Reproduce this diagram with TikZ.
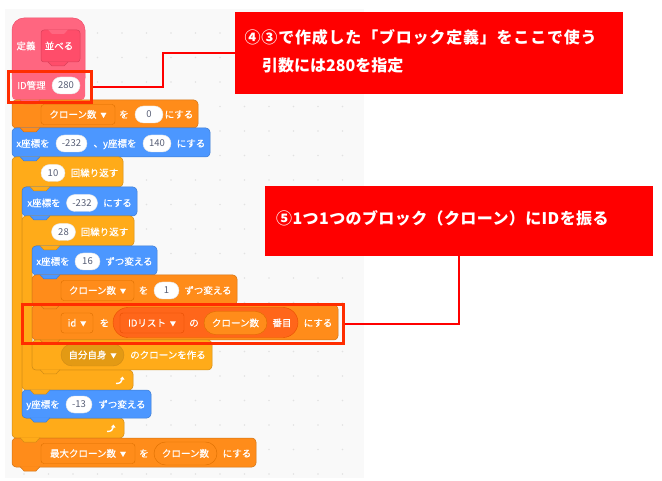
\documentclass[tikz,border=0pt]{standalone}
\usepackage{fontspec}
\newfontfamily\jp{Noto Sans CJK JP}
\newfontfamily\jpm[FakeBold=0.5]{Noto Sans CJK JP}
\usetikzlibrary{arrows.meta}
\definecolor{pinkA}{HTML}{FF6680}
\definecolor{pinkD}{HTML}{F0506C}
\definecolor{pinkIn}{HTML}{FF4D6A}
\definecolor{varO}{HTML}{FF8C1A}
\definecolor{varD}{HTML}{DB6E00}
\definecolor{blueM}{HTML}{4C97FF}
\definecolor{blueD}{HTML}{3373CC}
\definecolor{ctrl}{HTML}{FFAB19}
\definecolor{ctrlD}{HTML}{CF8B17}
\definecolor{ctrlDD}{HTML}{E39A14}
\definecolor{listO}{HTML}{FF661A}
\definecolor{listD}{HTML}{E64D00}
\definecolor{numgrey}{HTML}{575E75}
\definecolor{panel}{HTML}{F9F9F9}
\definecolor{dotc}{HTML}{E2E2E2}
\definecolor{boxred}{HTML}{FF2D00}
\definecolor{callred}{HTML}{FF0000}
\newcommand\ddarrow{\hspace{4pt}\raisebox{0.6pt}{\fontsize{6}{6}\selectfont ▼}}
\newcommand\blockbody[5]{\filldraw[fill=#1, draw=#1!82!black, line width=0.5pt, rounded corners=4pt] (#2,#3) rectangle (#4,#5);}
\newcommand\blocktab[3]{\filldraw[fill=#1, draw=#1!82!black, line width=0.5pt] (#2+8,#3-0.4) -- (#2+12,#3+4) -- (#2+24,#3+4) -- (#2+28,#3-0.4);}
\begin{document}
\begin{tikzpicture}[x=1pt,y=-1pt,
  lbl/.style={text=white, font=\jpm\fontsize{9.5}{10}\selectfont, inner sep=0pt, text height=0.85em, text depth=0.15em},
  num/.style={fill=white, draw=black!10, rounded corners=8.5pt, minimum height=17pt, inner sep=0pt, text=numgrey, font=\jp\fontsize{9.5}{10}\selectfont, text height=0.78em, text depth=0.12em},
  vdd/.style={lbl, fill=varO, draw=varD, rounded corners=3pt, minimum height=20pt},
  ldd/.style={lbl, fill=listO, draw=listD, rounded corners=3pt, minimum height=20pt},
  vrep/.style={lbl, fill=varO, draw=varD, rounded corners=11.5pt, minimum height=23pt},
  lrep/.style={fill=listO, draw=listD, rounded corners=15pt, minimum height=30pt, inner sep=0pt},
  cdd/.style={lbl, fill=ctrlDD, draw=ctrlD, rounded corners=11pt, minimum height=22pt},
  redbox/.style={draw=boxred, line width=3pt, inner sep=0pt},
  callout/.style={fill=callred, inner sep=0pt},
  ctext/.style={text=white, font=\jp\bfseries\fontsize{16}{18}\selectfont, inner sep=0pt, text height=0.88em, text depth=0.12em, anchor=west},
  conn/.style={draw=callred, line width=2.4pt}
]
\useasboundingbox (0,0) rectangle (662,481);
\fill[white] (0,0) rectangle (662,481);
\fill[panel] (5,9) rectangle (364,478);
\foreach \i in {0,...,13} \foreach \j in {0,...,18} \fill[dotc] (24+24.5*\i, 33+24.5*\j) circle (0.8pt);

% define hat
\filldraw[fill=pinkA, draw=pinkD, line width=0.5pt, rounded corners=12pt] (12,18) rectangle (85,90);
\filldraw[fill=pinkIn, draw=pinkIn!85!black, line width=0.5pt, rounded corners=3pt] (41,30) rectangle (80,62);
\fill[pinkA] (48,29.6) -- (52,34) -- (64,34) -- (68,29.6) -- cycle;
\filldraw[fill=pinkIn, draw=pinkIn!85!black, line width=0.5pt] (48,62) -- (52,66) -- (64,66) -- (68,62);
% ID block
\fill[pinkA, rounded corners=4pt] (12,72) rectangle (85,100);
% var A
\blockbody{varO}{12}{100}{198}{128}
% blue B
\blockbody{blueM}{12}{128}{210}{157}
% C1
\filldraw[fill=ctrl, draw=ctrlD, line width=0.5pt, rounded corners=4pt] (12,157) -- (123,157) -- (123,187) -- (22,187) -- (22,418) -- (124,418) -- (124,438) -- (12,438) -- cycle;
% blue C
\blockbody{blueM}{22}{187}{137}{216}
% C2
\filldraw[fill=ctrl, draw=ctrlD, line width=0.5pt, rounded corners=4pt] (22,216) -- (134,216) -- (134,246) -- (32,246) -- (32,370) -- (133,370) -- (133,390) -- (22,390) -- cycle;
% blue D
\blockbody{blueM}{32}{246}{157}{275}
% var E
\blockbody{varO}{32}{275}{237}{305}
% var F
\blockbody{varO}{32}{305}{338}{340}
% ctrl G
\blockbody{ctrl}{32}{340}{212}{370}
% blue H
\blockbody{blueM}{22}{390}{151}{418}
% var I
\blockbody{varO}{12}{438}{256}{467}

% tabs
\blocktab{pinkA}{12}{100}
\blocktab{varO}{12}{128}
\blocktab{blueM}{12}{157}
\blocktab{ctrl}{22}{187}
\blocktab{blueM}{22}{216}
\blocktab{ctrl}{32}{246}
\blocktab{blueM}{32}{275}
\blocktab{varO}{32}{305}
\blocktab{varO}{32}{340}
\blocktab{ctrl}{32}{370}
\blocktab{ctrl}{22}{390}
\blocktab{blueM}{22}{418}
\blocktab{ctrl}{12}{438}
\blocktab{varO}{12}{467}

% loop arrows
\draw[white, line width=1.4pt, -{Triangle[length=3pt,width=4.5pt]}] (116,383.5) .. controls (120,383.5) and (122,382) .. (122.5,376.5);
\draw[white, line width=1.4pt, -{Triangle[length=3pt,width=4.5pt]}] (107,431.5) .. controls (111,431.5) and (113,430) .. (113.5,424.5);

% texts: hat
\node[lbl] (h1) at (26,46) {定義};
\node[lbl] (h2) at (59,46) {並べる};
\node[lbl] (id1) at (31.5,85.5) {ID管理};
\node[num, minimum width=28pt] (id2) at (66,85.5) {280};
% A
\node[vdd, minimum width=74pt] (a1) at (78,114.5) {クローン数\ddarrow};
\node[lbl] (a2) at (124,114.5) {を};
\node[num, minimum width=28pt] (a3) at (149,114.5) {0};
\node[lbl] (a4) at (179,114.5) {にする};
% B
\node[lbl] (b1) at (33,143.5) {x座標を};
\node[num, minimum width=31pt] (b2) at (71.5,143.5) {-232};
\node[lbl] (b3) at (115,143.5) {、y座標を};
\node[num, minimum width=28pt] (b4) at (157,143.5) {140};
\node[lbl] (b5) at (191,143.5) {にする};
% C1 row
\node[num, minimum width=24pt] (c11) at (53,173) {10};
\node[lbl] (c12) at (94.5,173) {回繰り返す};
% blue C
\node[lbl] (bc1) at (44,203) {x座標を};
\node[num, minimum width=31pt] (bc2) at (82,203) {-232};
\node[lbl] (bc3) at (117.5,203) {にする};
% C2 row
\node[num, minimum width=24pt] (c21) at (63.5,232) {28};
\node[lbl] (c22) at (104.5,232) {回繰り返す};
% blue D
\node[lbl] (d1) at (53,261.5) {x座標を};
\node[num, minimum width=25pt] (d2) at (87.5,261.5) {16};
\node[lbl] (d3) at (129,261.5) {ずつ変える};
% E
\node[vdd, minimum width=73pt] (e1) at (97.5,290.5) {クローン数\ddarrow};
\node[lbl] (e2) at (143.5,290.5) {を};
\node[num, minimum width=25pt] (e3) at (166.5,290.5) {1};
\node[lbl] (e4) at (208,290.5) {ずつ変える};
% F
\node[vdd, minimum width=32pt] (f1) at (77,323) {id\ddarrow};
\node[lbl] (f2) at (104.5,323) {を};
\node[lrep, minimum width=185pt] (f3) at (205.5,322.5) {};
\node[ldd, minimum width=64pt] (f4) at (152,323) {IDリスト\ddarrow};
\node[lbl] (f5) at (194,323) {の};
\node[vrep, minimum width=63pt] (f6) at (235.5,323) {クローン数};
\node[lbl] (f7) at (282,323) {番目};
\node[lbl] (f8) at (318,323) {にする};
% G
\node[cdd, minimum width=63pt] (g1) at (92.5,355) {自分自身\ddarrow};
\node[lbl] (g2) at (168,355) {のクローンを作る};
% H
\node[lbl] (hh1) at (43,404.5) {y座標を};
\node[num, minimum width=26pt] (hh2) at (79,404.5) {-13};
\node[lbl] (hh3) at (122,404.5) {ずつ変える};
% I
\node[vdd, minimum width=94pt] (i1) at (88,453.5) {最大クローン数\ddarrow};
\node[lbl] (i2) at (144,453.5) {を};
\node[vrep, minimum width=63pt] (i3) at (185.5,453.5) {クローン数};
\node[lbl] (i4) at (237,453.5) {にする};

% highlight boxes
\node[redbox, minimum width=83pt, minimum height=31pt] (rb1) at (50,87) {};
\node[redbox, minimum width=321pt, minimum height=39pt] (rb2) at (183,324) {};

% callouts
\node[callout, minimum width=388pt, minimum height=82pt] (co1) at (429,53) {};
\node[callout, minimum width=388pt, minimum height=70pt] (co2) at (459,221) {};
\node[ctext] (t1) at (244.5,40) {\addfontfeatures{LetterSpace=5}④③で作成した「ブロック定義」をここで使う};
\node[ctext] (t2) at (262,67.5) {引数には280を指定};
\node[ctext] (t3) at (276,221) {\addfontfeatures{LetterSpace=2.5}⑤1つ1つのブロック（クローン）にIDを振る};

% connectors
\draw[conn] (co1.west) -- ++(-72,0) |- (rb1.east);
\draw[conn] (co2.south) |- (rb2.east);
\end{tikzpicture}
\end{document}
